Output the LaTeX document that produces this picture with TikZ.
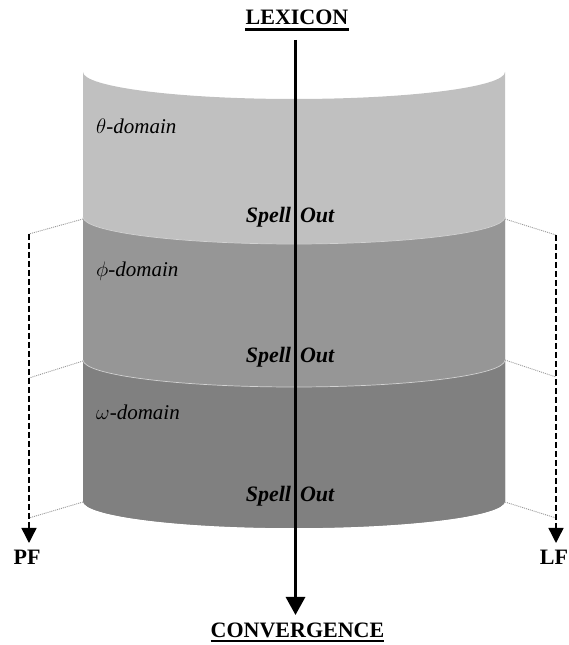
\documentclass[tikz,border=0pt]{standalone}
\usepackage{fix-cm}
\usepackage{fontspec}
\setmainfont{Liberation Serif}
\usetikzlibrary{arrows.meta}
\definecolor{bandA}{gray}{0.753}
\definecolor{bandB}{gray}{0.588}
\definecolor{bandC}{gray}{0.502}
\definecolor{guide}{gray}{0.6}
\tikzset{
  title/.style={font=\fontsize{22}{26}\selectfont\bfseries, inner sep=0pt, anchor=base},
  side/.style={font=\fontsize{22}{26}\selectfont\bfseries, inner sep=0pt},
  domainlabel/.style={font=\fontsize{21}{25}\selectfont\itshape, inner sep=0pt, anchor=base west},
  spellout/.style={font=\fontsize{22}{26}\selectfont\bfseries\itshape, inner sep=0pt, anchor=base},
  axis/.style={line width=3pt, -{Triangle[width=19pt,length=18pt]}},
  branch/.style={line width=1.4pt, dash pattern=on 6pt off 3pt, -{Triangle[width=15pt,length=15pt]}},
  tie/.style={guide, line width=0.9pt, dash pattern=on 1pt off 1pt},
  underbar/.style={line width=2.6pt},
  seam/.style={gray!35!white, line width=0.7pt}
}
\begin{document}
\begin{tikzpicture}[x=1pt,y=1pt]
\useasboundingbox (0,0) rectangle (569,645);

% curved layers of the derivation, lightest on top
\fill[bandA] (83,573) arc[start angle=180,end angle=360,x radius=211pt,y radius=27pt]
  -- (505,144) arc[start angle=360,end angle=180,x radius=211pt,y radius=27pt] -- cycle;
\fill[bandB] (83,428) arc[start angle=180,end angle=360,x radius=211pt,y radius=27pt]
  -- (505,144) arc[start angle=360,end angle=180,x radius=211pt,y radius=27pt] -- cycle;
\fill[bandC] (83,285) arc[start angle=180,end angle=360,x radius=211pt,y radius=27pt]
  -- (505,144) arc[start angle=360,end angle=180,x radius=211pt,y radius=27pt] -- cycle;
\draw[seam] (83,428) arc[start angle=180,end angle=360,x radius=211pt,y radius=27pt];
\draw[seam] (83,285) arc[start angle=180,end angle=360,x radius=211pt,y radius=27pt];

% layer corners
\coordinate (l1) at (83,426);  \coordinate (r1) at (505,426);
\coordinate (l2) at (83,284);  \coordinate (r2) at (505,285);
\coordinate (l3) at (83,143);  \coordinate (r3) at (505,143);

% PF and LF branches
\coordinate (pf1) at (29,411);  \coordinate (pf2) at (29,267);  \coordinate (pf3) at (29,127);
\coordinate (pfend) at (29,102);
\coordinate (lf1) at (556,410); \coordinate (lf2) at (556,268); \coordinate (lf3) at (556,127);
\coordinate (lfend) at (556,102);

\draw[tie] (l1) -- (pf1);
\draw[tie] (l2) -- (pf2);
\draw[tie] (l3) -- (pf3);
\draw[tie] (r1) -- (lf1);
\draw[tie] (r2) -- (lf2);
\draw[tie] (r3) -- (lf3);
\draw[branch] (pf1) -- (pfend);
\draw[branch] (lf1) -- (lfend);

\node[side] (pf) at (27,88) {PF};
\node[side] (lf) at (554,88) {LF};

% domain names
\node[domainlabel] (theta) at (96,511) {$\theta$-domain};
\node[domainlabel] (phi)   at (96,368) {$\phi$-domain};
\node[domainlabel] (omega) at (96,225) {$\omega$-domain};

% Spell Out points
\node[spellout] (so1) at (290,422) {Spell\hspace{9pt}Out};
\node[spellout] (so2) at (290,282) {Spell\hspace{9pt}Out};
\node[spellout] (so3) at (290,143) {Spell\hspace{9pt}Out};

% endpoints of the derivation
\node[title] (lex)  at (297,620) {LEXICON};
\node[title] (conv) at (297.5,8) {CONVERGENCE};
\draw[underbar] ([yshift=-4.5pt]lex.base west) -- ([yshift=-4.5pt]lex.base east);
\draw[underbar] ([yshift=-4pt]conv.base west) -- ([yshift=-4pt]conv.base east);

\coordinate (axtop) at (295.5,605);
\coordinate (axbot) at (295.5,30);
\draw[axis] (axtop) -- (axbot);
\end{tikzpicture}
\end{document}
